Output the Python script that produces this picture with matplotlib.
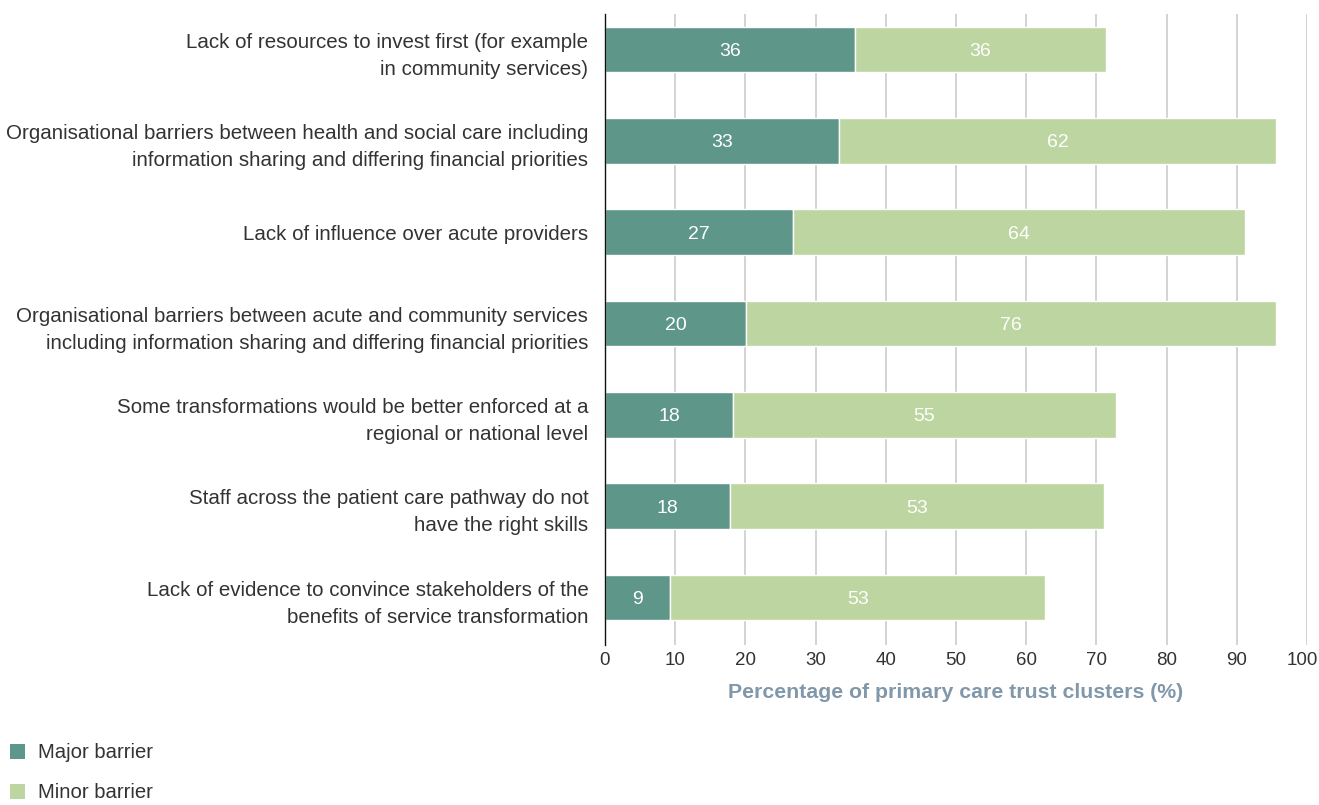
import matplotlib
matplotlib.use("Agg")
import matplotlib.pyplot as plt
import matplotlib.transforms as mtransforms
from matplotlib.patches import Patch

categories = [
    "Lack of resources to invest first (for example\nin community services)",
    "Organisational barriers between health and social care including\ninformation sharing and differing financial priorities",
    "Lack of influence over acute providers",
    "Organisational barriers between acute and community services\nincluding information sharing and differing financial priorities",
    "Some transformations would be better enforced at a\nregional or national level",
    "Staff across the patient care pathway do not\nhave the right skills",
    "Lack of evidence to convince stakeholders of the\nbenefits of service transformation",
]
major = [35.6, 33.3, 26.8, 20.1, 18.2, 17.8, 9.3]
minor = [35.7, 62.3, 64.4, 75.5, 54.6, 53.3, 53.4]
major_labels = ["36", "33", "27", "20", "18", "18", "9"]
minor_labels = ["36", "62", "64", "76", "55", "53", "53"]
xticks = [0, 10, 20, 30, 40, 50, 60, 70, 80, 90, 100]

c_major = "#5E968A"
c_minor = "#BDD5A0"
font = "Liberation Sans"
plt.rcParams["font.family"] = [font, "DejaVu Sans"]

fig = plt.figure(figsize=(13.19, 8.05), dpi=100)
ax = fig.add_axes([605/1319, 1-645/805, (1307-605)/1319, (645-14)/805])

y = list(range(len(categories)))
ax.barh(y, major, height=0.5, color=c_major, edgecolor="white", linewidth=1, zorder=3)
ax.barh(y, minor, left=major, height=0.5, color=c_minor, edgecolor="white", linewidth=1, zorder=3)

for i in y:
    ax.text(major[i]/2, i + 0.02, major_labels[i], ha="center", va="center", color="white", fontsize=14, zorder=4)
    ax.text(major[i] + minor[i]/2, i + 0.02, minor_labels[i], ha="center", va="center", color="white", fontsize=14, zorder=4)

ax.set_xlim(0, 100)
ax.set_ylim(6.52, -0.39)
ax.set_xticks(xticks)
ax.set_xticklabels([str(t) for t in xticks], fontsize=13.5, color="#333333")
ax.set_yticks(y)
ax.set_yticklabels(categories, fontsize=14.8, color="#333333", linespacing=1.55)
ax.tick_params(axis="both", length=0)
ax.tick_params(axis="x", pad=5)
ax.tick_params(axis="y", pad=12)
ax.grid(axis="x", color="#c8c8c8", linewidth=1.1, zorder=0)
ax.set_axisbelow(True)
for s in ["top", "right", "bottom"]:
    ax.spines[s].set_visible(False)
ax.spines["left"].set_color("#111111")
ax.spines["left"].set_linewidth(1)
ax.spines["left"].set_zorder(5)

# nudge the last tick label slightly left so it stays inside the canvas
last = ax.get_xticklabels()[-1]
last.set_transform(last.get_transform() + mtransforms.ScaledTranslation(-5/100, 0, fig.dpi_scale_trans))

ax.set_xlabel("Percentage of primary care trust clusters (%)", fontsize=15.3, fontweight="bold",
              color="#8197AA", labelpad=10)

handles = [Patch(facecolor=c_major, edgecolor="none", label="Major barrier"),
           Patch(facecolor=c_minor, edgecolor="none", label="Minor barrier")]
fig.legend(handles=handles, loc="lower left", bbox_to_anchor=(-0.0015, -0.012), frameon=False,
           fontsize=14.6, handlelength=0.75, handleheight=0.75, handletextpad=0.6,
           labelspacing=1.05, borderaxespad=0.2, labelcolor="#333333")

fig.savefig("out.png", dpi=100)
